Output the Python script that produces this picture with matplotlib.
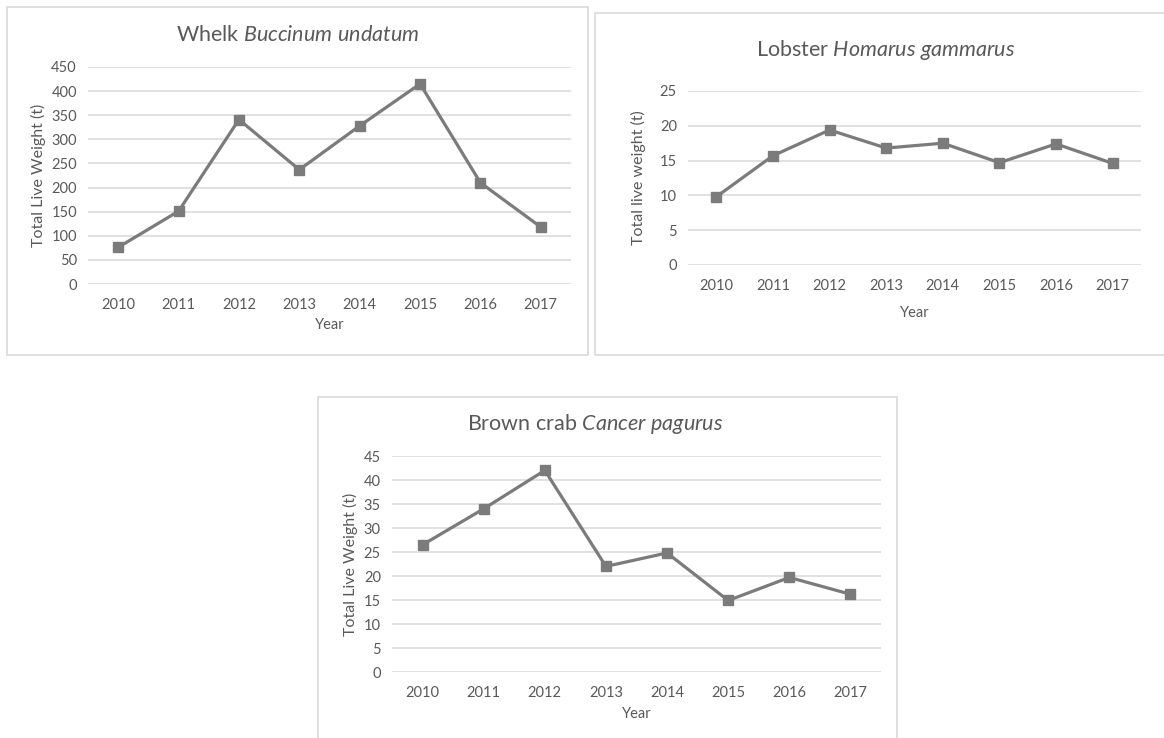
import numpy as np
import matplotlib.pyplot as plt
from matplotlib.patches import Rectangle

plt.rcParams['font.family'] = ['Lato', 'DejaVu Sans']
plt.rcParams['mathtext.fontset'] = 'custom'
plt.rcParams['mathtext.it'] = 'Lato:italic'
plt.rcParams['mathtext.rm'] = 'Lato'

years = ["2010", "2011", "2012", "2013", "2014", "2015", "2016", "2017"]

whelk = [76, 151, 341, 237, 328, 415, 210, 118]
lobster = [9.8, 15.7, 19.4, 16.8, 17.5, 14.7, 17.4, 14.6]
crab = [26.5, 34.0, 42.0, 22.0, 24.8, 14.9, 19.7, 16.2]

W, H = 1164, 738
TXT = "#595959"
GRID = "#d9d9d9"
LINE = "#7b7b7b"

fig = plt.figure(figsize=(W / 100, H / 100), dpi=100)


def px_box(x0, y0, x1, y1):
    # pixel box (top-left origin) -> figure fraction rect
    return [x0 / W, 1 - y1 / H, (x1 - x0) / W, (y1 - y0) / H]


def panel(frame, axbox, vals, ymax, ystep, common, latin, title_xy, ylabel, ylab_x, year_y):
    fx0, fy0, fx1, fy1 = frame
    fig.patches.append(Rectangle((fx0 / W, 1 - fy1 / H), (fx1 - fx0) / W, (fy1 - fy0) / H,
                                 transform=fig.transFigure, fill=False,
                                 edgecolor=GRID, lw=1.2))
    ax = fig.add_axes(px_box(*axbox))
    x = np.arange(len(years))
    ax.plot(x, vals, color=LINE, lw=2.3, marker='s', ms=7, zorder=3)
    ax.set_xlim(-0.5, len(years) - 0.5)
    ax.set_ylim(0, ymax)
    ax.set_yticks(np.arange(0, ymax + ystep / 2, ystep))
    ax.set_xticks(x)
    ax.set_xticklabels(years)
    ax.grid(axis='y', color=GRID, lw=1.1)
    ax.set_axisbelow(True)
    for s in ax.spines.values():
        s.set_visible(False)
    ax.tick_params(length=0, colors=TXT, labelsize=10.5)
    ax.tick_params(axis='y', pad=8)
    ax.tick_params(axis='x', pad=10)

    tx, ty = title_xy
    fig.text(tx / W, 1 - ty / H, common + " " + r"$\it{" + latin.replace(" ", r"\ ") + "}$",
             ha='center', va='center', color=TXT, fontsize=15.5)
    fig.text(ylab_x / W, 1 - (axbox[1] + axbox[3]) / 2 / H, ylabel, rotation=90,
             ha='center', va='center', color=TXT, fontsize=11.5)
    fig.text((axbox[0] + axbox[2]) / 2 / W, 1 - year_y / H, "Year",
             ha='center', va='center', color=TXT, fontsize=10.5)
    return ax


panel((7, 7, 588, 355), (88, 67, 571, 284), whelk, 450, 50,
      "Whelk", "Buccinum undatum", (298, 35), "Total Live Weight (t)", 38, 325)
panel((595, 13, 1175, 355), (688, 91, 1141, 265), lobster, 25, 5,
      "Lobster", "Homarus gammarus", (886, 50), "Total live weight (t)", 638, 313)
panel((318, 397, 897, 745), (392, 456, 881, 672), crab, 45, 5,
      "Brown crab", "Cancer pagurus", (595, 424), "Total Live Weight (t)", 350, 714)

fig.savefig("out.png", dpi=100)
